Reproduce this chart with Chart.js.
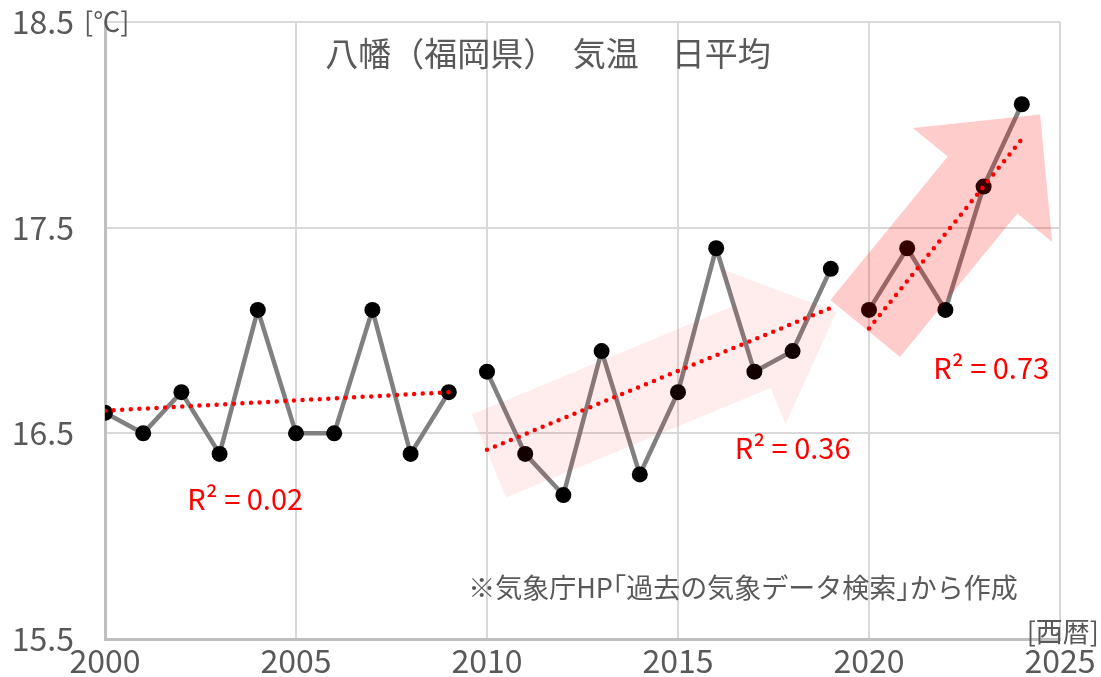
<!DOCTYPE html>
<html>
<head>
<meta charset="utf-8">
<script src="https://cdn.jsdelivr.net/npm/chart.js@4.4.1/dist/chart.umd.min.js"></script>
<style>
html, body { margin: 0; padding: 0; background: #fff; }
#wrap { width: 1101px; height: 677px; }
</style>
</head>
<body>
<div id="wrap"><canvas id="chart"></canvas></div>
<script>
// 年平均気温（八幡）
const years = [2000, 2001, 2002, 2003, 2004, 2005, 2006, 2007, 2008, 2009,
               2010, 2011, 2012, 2013, 2014, 2015, 2016, 2017, 2018, 2019,
               2020, 2021, 2022, 2023, 2024];
const temps = [16.6, 16.5, 16.7, 16.4, 17.1, 16.5, 16.5, 17.1, 16.4, 16.7,
               16.8, 16.4, 16.2, 16.9, 16.3, 16.7, 17.4, 16.8, 16.9, 17.3,
               17.1, 17.4, 17.1, 17.7, 18.1];

// 区間ごとの近似直線
const segStart = [2000, 2010, 2020];
const segEnd = [2009, 2019, 2024];
const trendStart = [16.61, 16.42, 17.01];
const trendEnd = [16.70, 17.11, 17.93];
const r2Labels = ['R² = 0.02', 'R² = 0.36', 'R² = 0.73'];

const xTicks = [2000, 2005, 2010, 2015, 2020, 2025];
const yTicks = [15.5, 16.5, 17.5, 18.5];

const FONT = '"Noto Sans CJK JP", "Noto Sans", sans-serif';
const GREY_TXT = '#595959';

// 矢印とラベルの位置（データ座標）
const arrows = [
    { tail: [2010.05, 16.39], tip: [2019.15, 17.09], shaft: 45, head: 84, len: 90, color: 'rgba(255,0,0,0.07)' },
    { tail: [2019.9, 17.01], tip: [2024.48, 18.05], shaft: 45, head: 90, len: 91, color: 'rgba(255,0,0,0.2)' }
];
const r2Pos = [[2003.67, 16.18], [2018.0, 16.43], [2023.2, 16.82]];

const datasets = [];
segStart.forEach((s, i) => {
    const pts = [];
    years.forEach((y, j) => { if (y >= s && y <= segEnd[i]) pts.push({ x: y, y: temps[j] }); });
    datasets.push({
        data: pts, order: 2,
        borderColor: '#808080', borderWidth: 4.5,
        pointRadius: 8, pointHoverRadius: 8,
        pointBackgroundColor: '#000', pointBorderWidth: 0,
        tension: 0
    });
    datasets.push({
        data: [{ x: s, y: trendStart[i] }, { x: segEnd[i], y: trendEnd[i] }], order: 1,
        borderColor: '#ff0000', borderWidth: 4.5,
        borderDash: [0, 8.6], borderCapStyle: 'round',
        pointRadius: 0, pointHoverRadius: 0
    });
});

function drawArrow(ctx, T, P, a) {
    const dx = P[0] - T[0], dy = P[1] - T[1];
    const d = Math.hypot(dx, dy);
    const ux = dx / d, uy = dy / d, nx = -uy, ny = ux;
    const bx = P[0] - ux * a.len, by = P[1] - uy * a.len;
    ctx.beginPath();
    ctx.moveTo(T[0] + nx * a.shaft, T[1] + ny * a.shaft);
    ctx.lineTo(bx + nx * a.shaft, by + ny * a.shaft);
    ctx.lineTo(bx + nx * a.head, by + ny * a.head);
    ctx.lineTo(P[0], P[1]);
    ctx.lineTo(bx - nx * a.head, by - ny * a.head);
    ctx.lineTo(bx - nx * a.shaft, by - ny * a.shaft);
    ctx.lineTo(T[0] - nx * a.shaft, T[1] - ny * a.shaft);
    ctx.closePath();
    ctx.fillStyle = a.color;
    ctx.fill();
}

const overlay = {
    id: 'overlay',
    afterDatasetsDraw(chart) {
        const ctx = chart.ctx, xs = chart.scales.x, ys = chart.scales.y;
        ctx.save();
        arrows.forEach(a => {
            drawArrow(ctx,
                [xs.getPixelForValue(a.tail[0]), ys.getPixelForValue(a.tail[1])],
                [xs.getPixelForValue(a.tip[0]), ys.getPixelForValue(a.tip[1])], a);
        });
        ctx.textBaseline = 'middle';
        ctx.textAlign = 'center';
        ctx.fillStyle = '#ff0000';
        ctx.font = '29px ' + FONT;
        r2Labels.forEach((t, i) => {
            ctx.fillText(t, xs.getPixelForValue(r2Pos[i][0]), ys.getPixelForValue(r2Pos[i][1]));
        });
        ctx.fillStyle = GREY_TXT;
        ctx.font = '33px ' + FONT;
        ctx.fillText('八幡（福岡県）　気温　日平均', 548, 53);
        ctx.font = '27px ' + FONT;
        ctx.fillText('※気象庁HP｢過去の気象データ検索｣から作成', 743, 588);
        ctx.textAlign = 'left';
        ctx.fillText('[℃]', 84, 22);
        ctx.textAlign = 'right';
        ctx.fillText('[西暦]', 1099, 632);
        ctx.restore();
    }
};

new Chart(document.getElementById('chart'), {
    type: 'line',
    data: { datasets: datasets },
    options: {
        responsive: true, maintainAspectRatio: false, animation: false,
        layout: { padding: { top: 22, right: 41, left: 0, bottom: 0 } },
        plugins: { legend: { display: false }, tooltip: { enabled: false } },
        scales: {
            x: {
                type: 'linear', min: 2000, max: 2025,
                afterBuildTicks: s => { s.ticks = xTicks.map(v => ({ value: v })); },
                afterFit: s => { s.height = 38; s.paddingLeft = 0; s.paddingRight = 0; },
                grid: { color: '#d9d9d9', lineWidth: 2, drawTicks: false },
                border: { color: '#bfbfbf', width: 3 },
                ticks: { color: GREY_TXT, font: { family: FONT, size: 32 }, padding: 3, maxRotation: 0,
                         callback: v => String(v) }
            },
            y: {
                min: 15.5, max: 18.5,
                afterBuildTicks: s => { s.ticks = yTicks.map(v => ({ value: v })); },
                afterFit: s => { s.width = 105; s.paddingTop = 0; s.paddingBottom = 0; },
                grid: { color: '#d9d9d9', lineWidth: 2, drawTicks: false },
                border: { color: '#bfbfbf', width: 3 },
                ticks: { color: GREY_TXT, font: { family: FONT, size: 32 }, padding: 31,
                         callback: v => v.toFixed(1) }
            }
        }
    },
    plugins: [overlay]
});
</script>
</body>
</html>
